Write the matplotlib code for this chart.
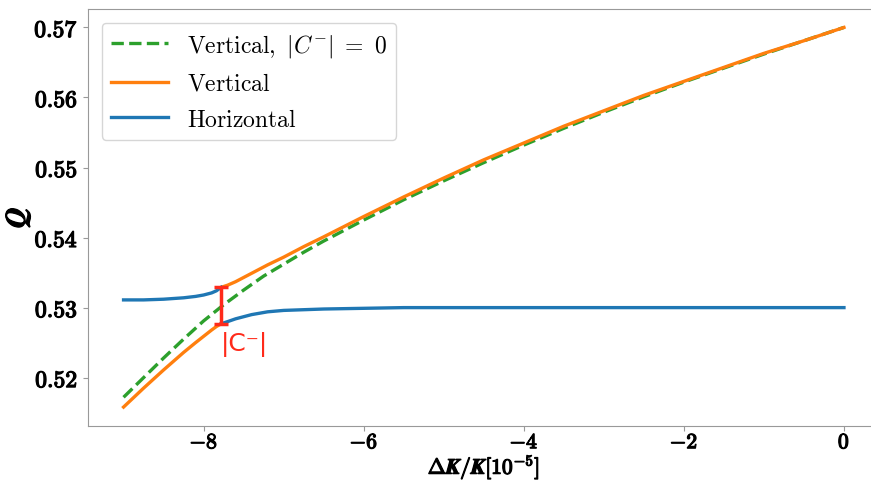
import matplotlib
matplotlib.use("Agg")
import matplotlib.pyplot as plt
import matplotlib.patheffects as pe
from matplotlib.ticker import FuncFormatter

plt.rcParams['mathtext.fontset'] = 'cm'

# uncoupled vertical tune (|C-| = 0)
x_green = [-9.0, -8.75, -8.5, -8.25, -8.0, -7.75, -7.5, -7.25, -7.0, -6.75, -6.5, -6.25,
           -6.0, -5.5, -5.0, -4.5, -4.0, -3.5, -3.0, -2.5, -2.0, -1.5, -1.0, -0.5, 0.0]
q_green = [0.5172, 0.5200, 0.5228, 0.5255, 0.5281, 0.5304, 0.5325, 0.5345, 0.5362, 0.5379,
           0.5395, 0.5410, 0.5425, 0.5454, 0.5481, 0.5507, 0.5532, 0.5556, 0.5579, 0.5601,
           0.5622, 0.5642, 0.5662, 0.5681, 0.5700]

# coupled tunes, left of the closest approach
x_left = [-9.0, -8.75, -8.5, -8.25, -8.1, -8.0, -7.9, -7.84, -7.78]
q_vert_left = [0.5158, 0.5185, 0.5211, 0.5236, 0.5250, 0.5259, 0.5268, 0.5273, 0.5277]
q_hor_left = [0.5311, 0.5311, 0.5312, 0.5314, 0.5316, 0.5318, 0.5321, 0.5324, 0.5329]

# coupled tunes, right of the closest approach
x_right = [-7.78, -7.7, -7.6, -7.5, -7.4, -7.3, -7.2, -7.0, -6.75, -6.5, -6.0, -5.5, -5.0,
           -4.5, -4.0, -3.5, -3.0, -2.5, -2.0, -1.5, -1.0, -0.5, 0.0]
q_vert_right = [0.5329, 0.5332, 0.5337, 0.5343, 0.5349, 0.5355, 0.5361, 0.5372, 0.5387,
                0.5401, 0.5430, 0.5458, 0.5485, 0.5511, 0.5535, 0.5559, 0.5581, 0.5603,
                0.5623, 0.5643, 0.5663, 0.5681, 0.5700]
q_hor_right = [0.5277, 0.5280, 0.5284, 0.5287, 0.5290, 0.5292, 0.5294, 0.5296, 0.5297,
               0.5298, 0.5299, 0.5300, 0.5300, 0.5300, 0.5300, 0.5300, 0.5300, 0.5300,
               0.5300, 0.5300, 0.5300, 0.5300, 0.5300]

# closest tune approach
x_cmin = -7.78
q_cmin = [0.5277, 0.5329]

fig = plt.figure(figsize=(8.71, 4.81), dpi=100)
ax = fig.add_axes([0.1005, 0.1123, 0.9098, 0.8679])

lw = 2.4
ax.plot(x_green, q_green, '--', color='tab:green', lw=lw,
        label=r'$\mathrm{Vertical,}\ \boldsymbol{|C^{-}|}\ \boldsymbol{=}\ \boldsymbol{0}$')
ax.plot(x_left, q_vert_left, color='tab:orange', lw=lw, label=r'$\mathrm{Vertical}$')
ax.plot(x_right, q_vert_right, color='tab:orange', lw=lw)
ax.plot(x_left, q_hor_left, color='tab:blue', lw=lw, label=r'$\mathrm{Horizontal}$')
ax.plot(x_right, q_hor_right, color='tab:blue', lw=lw)

ax.errorbar([x_cmin], [sum(q_cmin) / 2], yerr=[(q_cmin[1] - q_cmin[0]) / 2],
            color='#ff2a1a', lw=2.5, capsize=5, capthick=2.5)
ax.text(x_cmin, q_cmin[0] - 0.0011, '|C\u207b|', color='#ff2a1a', fontsize=18,
        family='DejaVu Sans', ha='left', va='top')

ax.set_xlim(-9.45, 0.45)
ax.set_ylim(0.5131, 0.5727)
ax.set_xticks([-8, -6, -4, -2, 0])
ax.set_yticks([0.52, 0.53, 0.54, 0.55, 0.56, 0.57])
ax.xaxis.set_major_formatter(FuncFormatter(lambda v, p: r'$\mathbf{%d}$' % v))
ax.yaxis.set_major_formatter(FuncFormatter(lambda v, p: r'$\mathbf{%.2f}$' % v))
ax.tick_params(labelsize=17, color='0.6')
ax.tick_params(axis='x', labelsize=15.5, pad=1)
for s in ax.spines.values():
    s.set_color('0.6')

# fake the bold-extended look of the LaTeX labels
bold = [pe.withStroke(linewidth=0.9, foreground='black')]
for lab in ax.get_xticklabels() + ax.get_yticklabels():
    lab.set_path_effects(bold)

ax.set_xlabel(r'$\boldsymbol{\Delta K/K[10^{-5}]}$', fontsize=15.5, labelpad=0,
              path_effects=bold)
ax.set_ylabel(r'$\boldsymbol{Q}$', fontsize=20, labelpad=1, path_effects=bold)

ax.legend(loc='upper left', fontsize=17, handlelength=2.4, borderaxespad=0.6)

fig.savefig('out.png', dpi=100)
